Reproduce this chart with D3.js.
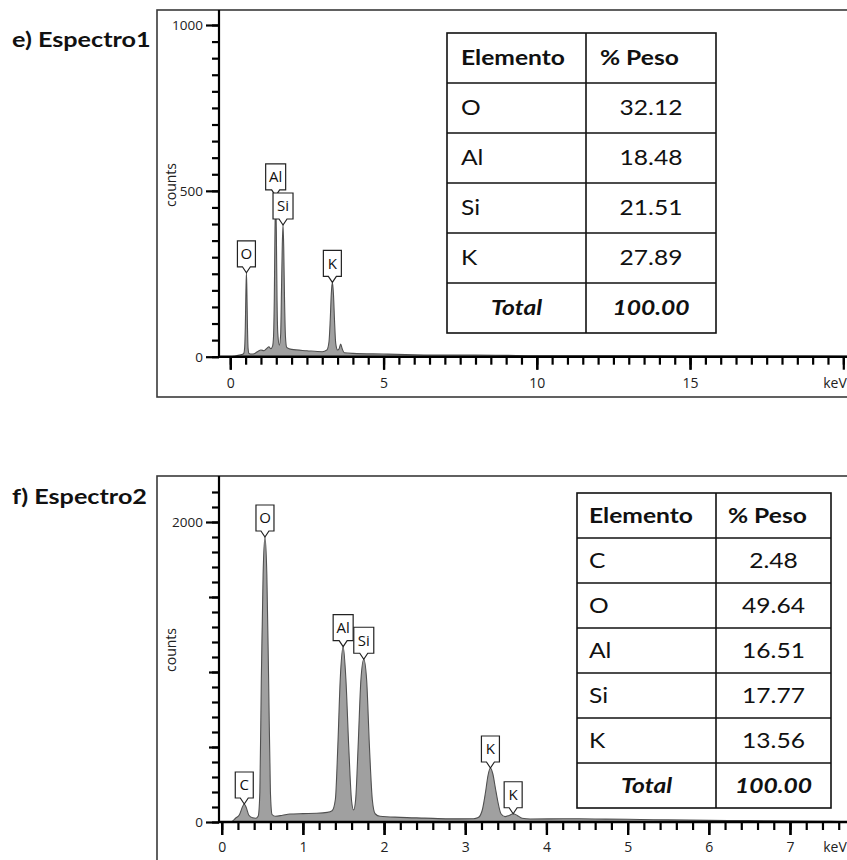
<!DOCTYPE html>
<html>
<head>
<meta charset="utf-8">
<script src="https://cdn.jsdelivr.net/npm/d3@7"></script>
<style>
  body { margin: 0; background: #fff; }
  svg { display: block; }
</style>
</head>
<body>
<svg id="fig" width="847" height="860"></svg>
<script>
// ---------- Espectro1 (panel e) ----------
const spec1Energy = [0.00, 0.10, 0.20, 0.30, 0.40, 0.44, 0.47, 0.49, 0.51, 0.526, 0.54, 0.56, 0.58, 0.61,
  0.70, 0.80, 0.90, 1.00, 1.10, 1.20, 1.26, 1.32, 1.38, 1.41, 1.435, 1.458, 1.48, 1.502, 1.525, 1.55,
  1.60, 1.645, 1.67, 1.697, 1.72, 1.743, 1.77, 1.80, 1.84, 1.92, 2.00, 2.50, 3.00, 3.15, 3.22, 3.26,
  3.295, 3.33, 3.365, 3.40, 3.44, 3.50, 3.55, 3.60, 3.65, 3.72, 4.0, 5.0, 6.0, 7.0, 8.0, 9.0, 10.0,
  12.0, 15.0, 18.0, 20.5];
const spec1Counts = [0, 1, 3, 5, 7, 10, 30, 90, 200, 253, 205, 90, 25, 10,
  8, 10, 16, 20, 18, 26, 30, 24, 32, 60, 170, 380, 485, 380, 170, 70,
  35, 70, 200, 340, 397, 330, 170, 60, 28, 24, 22, 18, 15, 20, 45, 110,
  190, 224, 190, 110, 40, 20, 24, 38, 24, 12, 10, 8, 6, 5, 5, 4, 3,
  3, 2, 2, 1];
const spec1PeakElements = ["O", "Al", "Si", "K"];
const spec1PeakEnergy = [0.526, 1.48, 1.72, 3.33];
const spec1PeakCounts = [253, 485, 397, 224];
const spec1XLabels = [0, 5, 10, 15];
const spec1YLabels = [0, 500, 1000];
const table1Elements = ["O", "Al", "Si", "K"];
const table1Weights = ["32.12", "18.48", "21.51", "27.89"];
const table1Total = "100.00";

// ---------- Espectro2 (panel f) ----------
const spec2Energy = [0.10, 0.13, 0.17, 0.22, 0.255, 0.278, 0.30, 0.335, 0.38, 0.42, 0.45, 0.47, 0.488,
  0.51, 0.533, 0.556, 0.578, 0.60, 0.62, 0.66, 0.75, 0.84, 1.00, 1.17, 1.30, 1.36, 1.40, 1.43, 1.46,
  1.496, 1.53, 1.565, 1.60, 1.625, 1.65, 1.68, 1.715, 1.75, 1.785, 1.82, 1.855, 1.89, 1.95, 2.2, 2.5,
  2.8, 3.10, 3.16, 3.21, 3.25, 3.28, 3.31, 3.34, 3.37, 3.40, 3.44, 3.49, 3.54, 3.59, 3.64, 3.70,
  3.80, 4.2, 4.6, 5.0, 5.5, 6.0, 6.5, 7.0, 7.5, 7.75];
const spec2Counts = [0, 5, 25, 50, 100, 120, 100, 45, 28, 25, 40, 200, 950,
  1650, 1900, 1650, 950, 200, 50, 38, 45, 53, 56, 58, 64, 75, 150, 500, 950,
  1169, 950, 500, 140, 80, 150, 500, 950, 1085, 950, 500, 150, 55, 38, 31, 26,
  21, 22, 30, 80, 200, 310, 360, 320, 230, 140, 55, 36, 44, 55, 44, 25,
  20, 22, 20, 18, 14, 11, 9, 6, 4, 3];
const spec2PeakElements = ["C", "O", "Al", "Si", "K", "K"];
const spec2PeakEnergy = [0.278, 0.533, 1.496, 1.75, 3.31, 3.59];
const spec2PeakCounts = [120, 1900, 1169, 1085, 360, 55];
const spec2XLabels = [0, 1, 2, 3, 4, 5, 6, 7];
const spec2YLabels = [0, 2000];
const table2Elements = ["C", "O", "Al", "Si", "K"];
const table2Weights = ["2.48", "49.64", "16.51", "17.77", "13.56"];
const table2Total = "100.00";

const tableHeader = ["Elemento", "% Peso"];

// ---------- drawing ----------
const svg = d3.select("#fig");
const SX = 1.2;                       // horizontal text stretch for the Lato text
const AXIS_FONT = "'Open Sans', 'Noto Sans', sans-serif";
const TABLE_FONT = "Lato, 'Open Sans', sans-serif";

function stretchedText(g, x, y, str, opts) {
  return g.append("text")
    .attr("transform", `translate(${x},${y}) scale(${SX},1)`)
    .attr("text-anchor", opts.anchor || "start")
    .style("font-family", TABLE_FONT)
    .style("font-size", opts.size + "px")
    .style("font-weight", opts.weight || "normal")
    .style("font-style", opts.italic ? "italic" : "normal")
    .attr("fill", "#111")
    .text(str);
}

function drawPanel(p) {
  const g = svg.append("g");

  // outer frame
  g.append("rect")
    .attr("x", p.frame[0]).attr("y", p.frame[1])
    .attr("width", p.frame[2]).attr("height", p.frame[3])
    .attr("fill", "none").attr("stroke", "#3a3a3a").attr("stroke-width", 1.6);

  // heading
  stretchedText(g, p.titlePos[0], p.titlePos[1], p.title, { size: 21, weight: "bold" });

  const x = d3.scaleLinear().domain(p.xDomain).range(p.xRange);
  const y = d3.scaleLinear().domain(p.yDomain).range(p.yRange);
  const y0 = y(0);

  // spectrum
  const pts = p.energy.map((e, i) => [e, p.counts[i]]);
  const clipId = "clip-" + p.id;
  g.append("clipPath").attr("id", clipId)
    .append("rect").attr("x", p.axisX).attr("y", p.frame[1])
    .attr("width", 847 - p.axisX).attr("height", y0 - p.frame[1]);
  const area = d3.area()
    .x(d => x(d[0])).y0(y0).y1(d => y(d[1]))
    .curve(d3.curveMonotoneX);
  const line = d3.line()
    .x(d => x(d[0])).y(d => y(d[1]))
    .curve(d3.curveMonotoneX);
  const sg = g.append("g").attr("clip-path", `url(#${clipId})`);
  sg.append("path").datum(pts).attr("d", area).attr("fill", "#a0a0a0");
  sg.append("path").datum(pts).attr("d", line)
    .attr("fill", "none").attr("stroke", "#505050").attr("stroke-width", 1.1);

  // x axis: minor and major ticks
  const xg = g.append("g").attr("transform", `translate(0,${y0})`);
  xg.append("g").call(d3.axisBottom(x).tickValues(p.xMinor).tickSize(8).tickFormat(""));
  xg.append("g").call(d3.axisBottom(x).tickValues(p.xMajor).tickSize(13).tickFormat(""));
  xg.append("g").call(d3.axisBottom(x).tickValues(p.xLabels).tickSize(13)
      .tickPadding(p.xPad).tickFormat(d3.format("d")));
  xg.selectAll(".domain").remove();
  xg.selectAll("line").attr("stroke", "#000").attr("stroke-width", 2.2);
  xg.selectAll("text").style("font-family", AXIS_FONT).style("font-size", "14px").attr("fill", "#222");
  xg.append("text")
    .attr("x", p.kevX).attr("y", 13 + p.xPad).attr("dy", "0.71em")
    .attr("text-anchor", "middle")
    .style("font-family", AXIS_FONT).style("font-size", "14px").attr("fill", "#222")
    .text("keV");

  // y axis: minor, mid and labelled ticks
  const yg = g.append("g").attr("transform", `translate(${p.axisX},0)`);
  yg.append("g").call(d3.axisLeft(y).tickValues(p.yMinor).tickSize(7).tickFormat(""));
  if (p.yMid.length) yg.append("g").call(d3.axisLeft(y).tickValues(p.yMid).tickSize(10).tickFormat(""));
  yg.append("g").call(d3.axisLeft(y).tickValues(p.yLabels).tickSize(13).tickPadding(3)
      .tickFormat(d3.format("d")));
  yg.selectAll(".domain").remove();
  yg.selectAll("line").attr("stroke", "#000").attr("stroke-width", 2.2);
  yg.selectAll("text").style("font-family", AXIS_FONT).style("font-size", "13.5px").attr("fill", "#222");

  // axis lines
  g.append("line").attr("x1", p.axisX).attr("x2", p.axisX)
    .attr("y1", p.frame[1]).attr("y2", y0)
    .attr("stroke", "#000").attr("stroke-width", 2.2);
  g.append("line").attr("x1", p.axisX).attr("x2", 847)
    .attr("y1", y0).attr("y2", y0)
    .attr("stroke", "#000").attr("stroke-width", 2.6);

  // axis title
  g.append("text")
    .attr("transform", `translate(${p.countsPos[0]},${p.countsPos[1]}) rotate(-90)`)
    .attr("text-anchor", "middle").attr("dy", "0.35em")
    .style("font-family", AXIS_FONT).style("font-size", "14px").attr("fill", "#222")
    .text("counts");

  // peak labels: box with a notch that points at the peak top
  p.peakElements.forEach((el, i) => {
    const tx = x(p.peakEnergy[i]);
    const ty = y(p.peakCounts[i]);
    const hw = el.length > 1 ? 10 : 9;
    const bottom = ty - 6, top = bottom - 26;
    const lg = g.append("g");
    lg.append("path")
      .attr("d", `M${tx - hw},${top}H${tx + hw}V${bottom}H${tx + 4}L${tx},${ty}L${tx - 4},${bottom}H${tx - hw}Z`)
      .attr("fill", "#fff").attr("stroke", "#222").attr("stroke-width", 1.2);
    lg.append("text")
      .attr("x", tx).attr("y", (top + bottom) / 2).attr("dy", "0.36em")
      .attr("text-anchor", "middle")
      .style("font-family", AXIS_FONT).style("font-size", "15px").attr("fill", "#111")
      .text(el);
  });

  // composition table
  const t = p.table;
  const rows = [tableHeader].concat(p.tableElements.map((e, i) => [e, p.tableWeights[i]]))
    .concat([["Total", p.tableTotal]]);
  const tw = t.col1 + t.col2, th = rows.length * t.rowH;
  const tg = g.append("g");
  tg.append("rect").attr("x", t.x).attr("y", t.y).attr("width", tw).attr("height", th)
    .attr("fill", "#fff").attr("stroke", "#111").attr("stroke-width", 1.6);
  tg.append("line").attr("x1", t.x + t.col1).attr("x2", t.x + t.col1)
    .attr("y1", t.y).attr("y2", t.y + th).attr("stroke", "#111").attr("stroke-width", 1.6);
  d3.range(1, rows.length).forEach(r => {
    tg.append("line").attr("x1", t.x).attr("x2", t.x + tw)
      .attr("y1", t.y + r * t.rowH).attr("y2", t.y + r * t.rowH)
      .attr("stroke", "#111").attr("stroke-width", 1.6);
  });
  rows.forEach((row, r) => {
    const by = t.y + r * t.rowH + t.rowH / 2 + 0.36 * t.fs;
    const isHead = r === 0, isTotal = r === rows.length - 1;
    if (isHead) {
      stretchedText(tg, t.x + t.pad, by, row[0], { size: t.fs, weight: "bold" });
      stretchedText(tg, t.x + t.col1 + t.pad, by, row[1], { size: t.fs, weight: "bold" });
    } else if (isTotal) {
      stretchedText(tg, t.x + t.col1 / 2, by, row[0], { size: t.fs, weight: "bold", italic: true, anchor: "middle" });
      stretchedText(tg, t.x + t.col1 + t.col2 / 2, by, row[1], { size: t.fs, weight: "bold", italic: true, anchor: "middle" });
    } else {
      stretchedText(tg, t.x + t.pad, by, row[0], { size: t.fs });
      stretchedText(tg, t.x + t.col1 + t.col2 / 2, by, row[1], { size: t.fs, anchor: "middle" });
    }
  });
}

drawPanel({
  id: "e", title: "e) Espectro1", titlePos: [12, 47],
  frame: [157, 10, 700, 387],
  axisX: 219,
  xDomain: [0, 20], xRange: [230.3, 843.3],
  yDomain: [0, 1000], yRange: [356.7, 25],
  xMinor: d3.range(0, 20.01, 0.5), xMajor: [0, 5, 10, 15, 20], xLabels: spec1XLabels, xPad: 8,
  kevX: 835,
  yMinor: d3.range(0, 1000.1, 50), yMid: [], yLabels: spec1YLabels,
  countsPos: [171, 185],
  energy: spec1Energy, counts: spec1Counts,
  peakElements: spec1PeakElements, peakEnergy: spec1PeakEnergy, peakCounts: spec1PeakCounts,
  table: { x: 447, y: 33, col1: 139, col2: 130, rowH: 50, fs: 20.5, pad: 14 },
  tableElements: table1Elements, tableWeights: table1Weights, tableTotal: table1Total
});

drawPanel({
  id: "f", title: "f) Espectro2", titlePos: [12, 504],
  frame: [157, 476, 700, 400],
  axisX: 219,
  xDomain: [0, 7], xRange: [221.7, 790],
  yDomain: [0, 2000], yRange: [822, 522],
  xMinor: d3.range(0, 7.61, 0.2), xMajor: d3.range(0, 8, 1), xLabels: spec2XLabels, xPad: 7,
  kevX: 835,
  yMinor: d3.range(0, 2200.1, 100), yMid: [500, 1000, 1500], yLabels: spec2YLabels,
  countsPos: [171, 650],
  energy: spec2Energy, counts: spec2Counts,
  peakElements: spec2PeakElements, peakEnergy: spec2PeakEnergy, peakCounts: spec2PeakCounts,
  table: { x: 577, y: 493, col1: 139, col2: 115, rowH: 45, fs: 20.5, pad: 12 },
  tableElements: table2Elements, tableWeights: table2Weights, tableTotal: table2Total
});
</script>
</body>
</html>
